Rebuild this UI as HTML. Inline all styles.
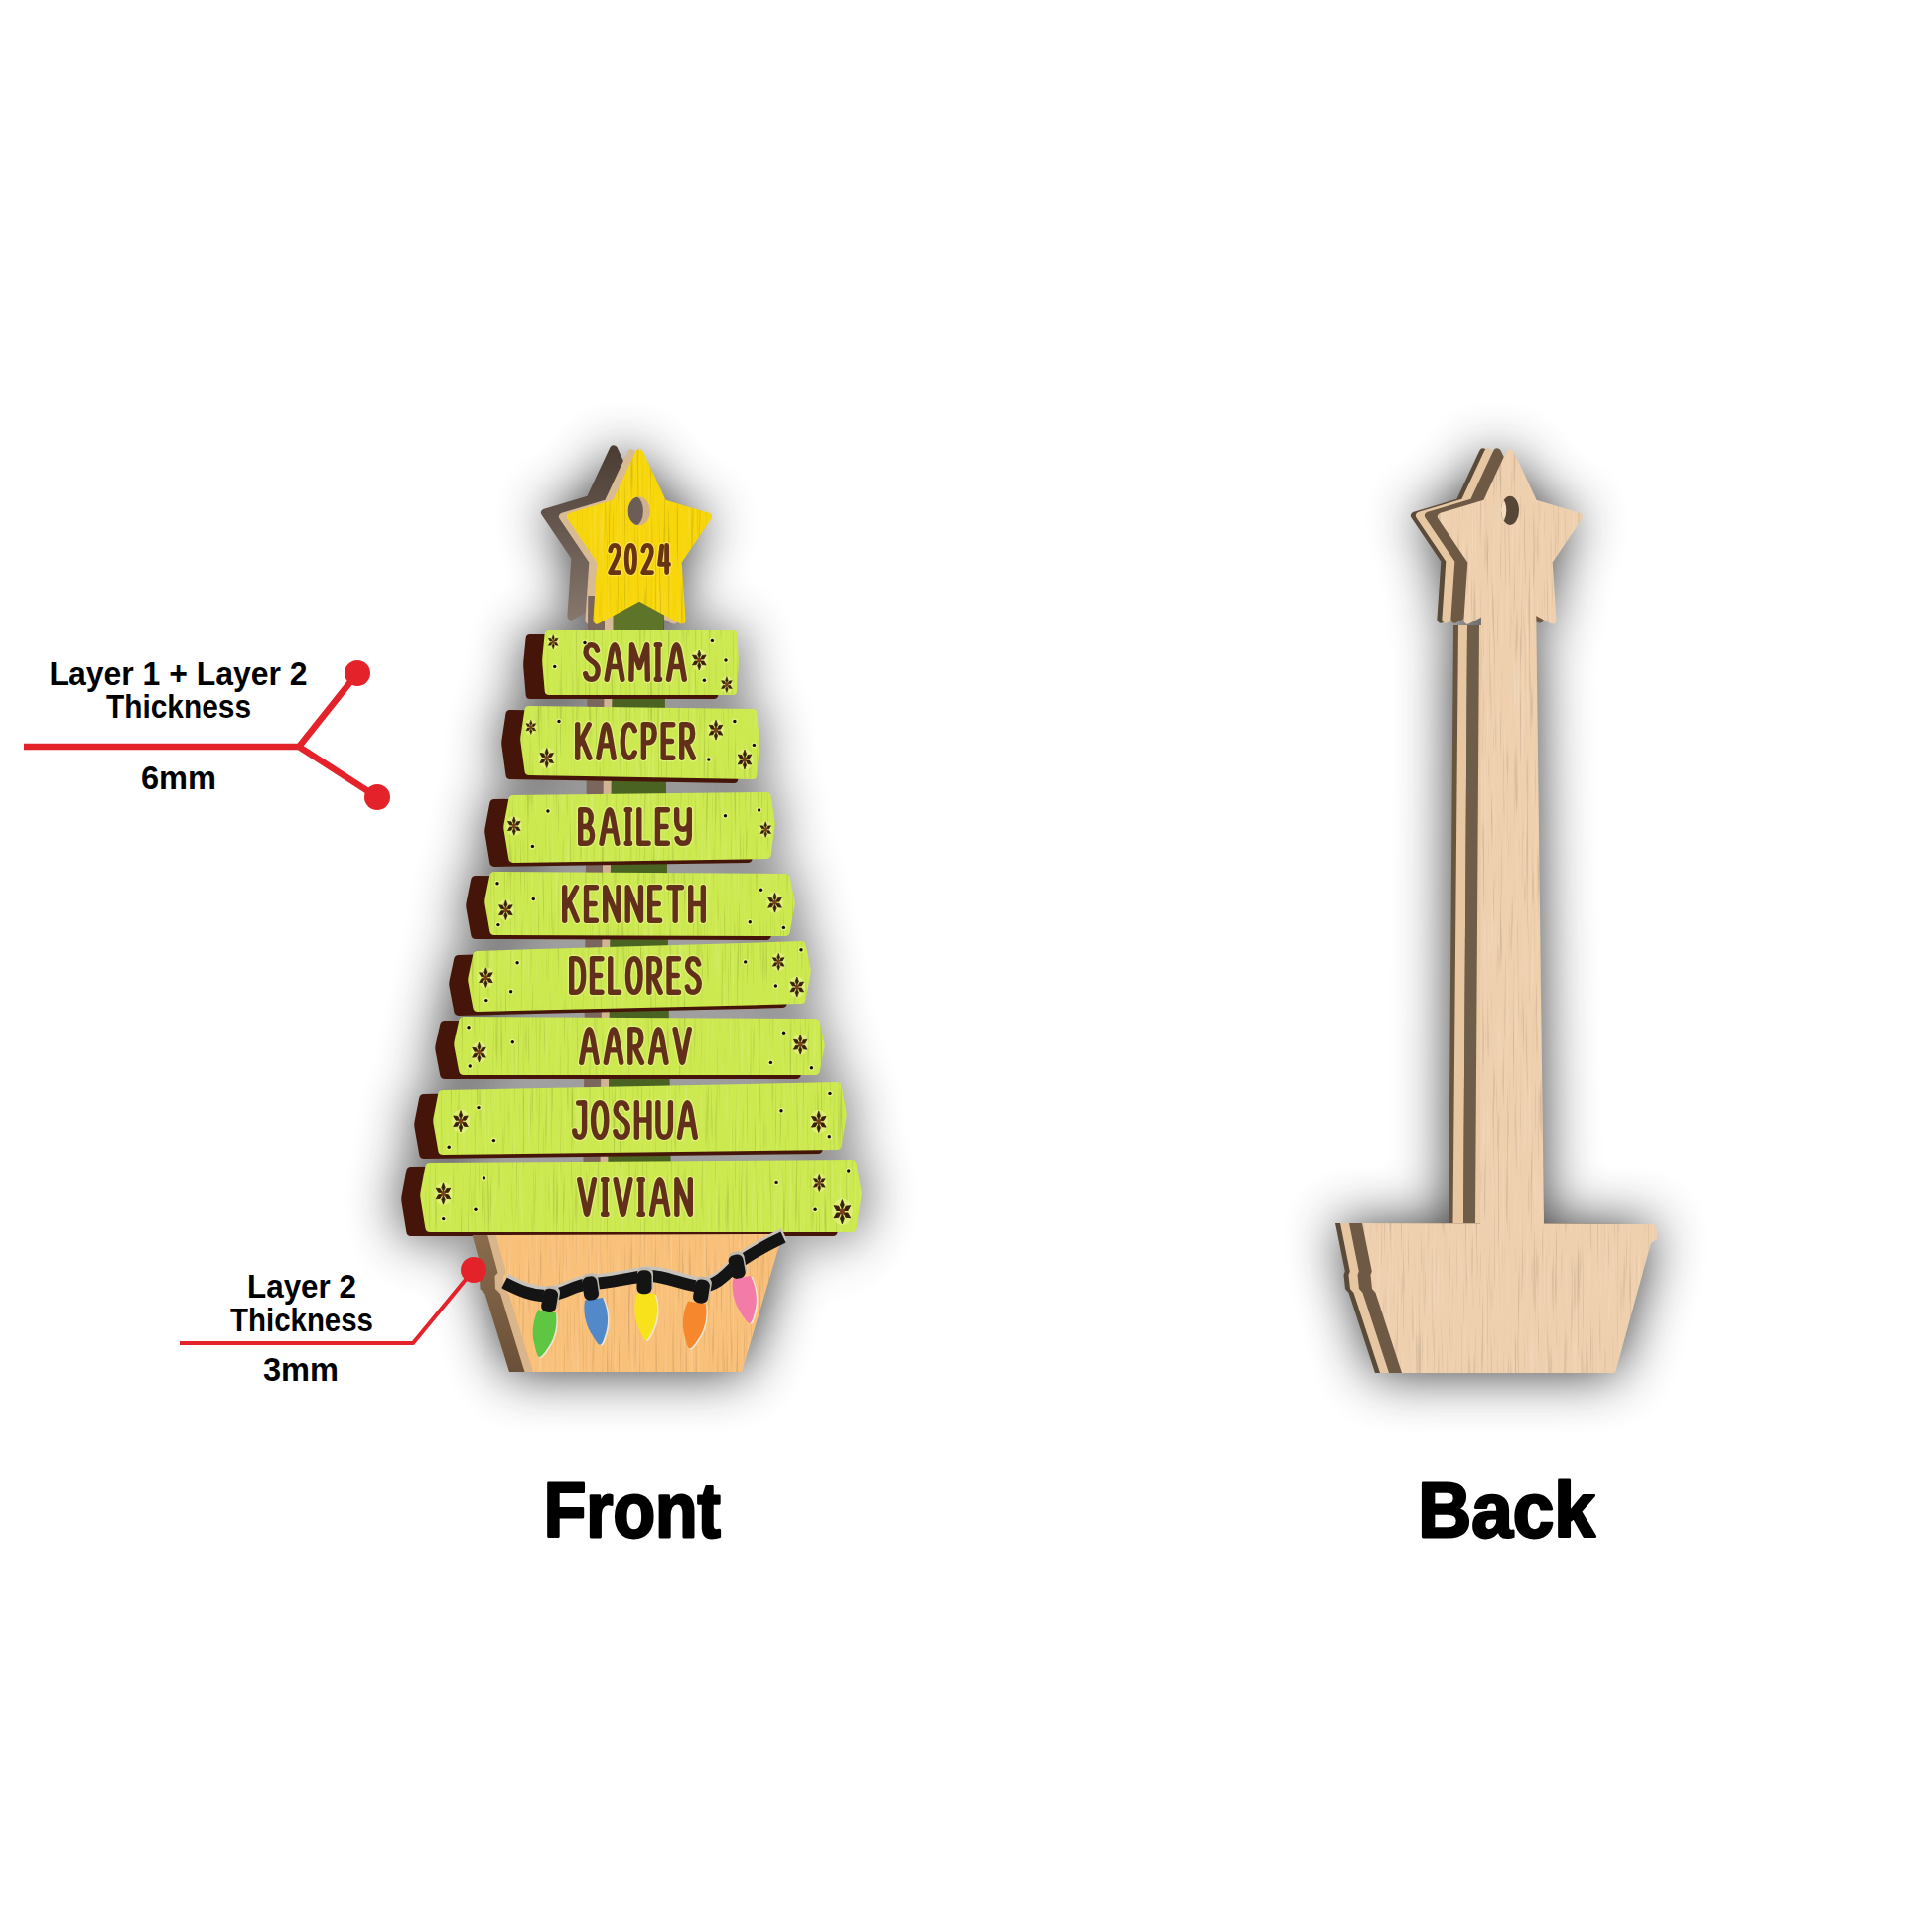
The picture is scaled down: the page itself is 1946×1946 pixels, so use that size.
<!DOCTYPE html><html><head><meta charset="utf-8"><title>Ornament</title><style>html,body{margin:0;padding:0;background:#fff;}svg{display:block;}</style></head><body>
<div style="position:absolute;left:0;top:0;width:1946px;height:1946px;filter:blur(27px);opacity:0.86"><svg xmlns="http://www.w3.org/2000/svg" width="1946" height="1946" viewBox="0 0 1946 1946"><g transform="translate(0,1)" fill="#1a1a1a">
<polygon points="618.0,448.3 642.8,501.6 690.0,515.3 658.1,562.0 662.5,623.8 618.0,599.3 573.5,623.8 577.9,562.0 546.0,515.3 593.2,501.6"/>
<polygon points="644.0,452.3 668.8,505.6 716.0,519.3 684.1,566.0 688.5,627.8 644.0,603.3 599.5,627.8 603.9,566.0 572.0,519.3 619.2,505.6"/>
<path d="M529.6,643.0 Q530.0,639.0 534.0,639.0 L719.0,639.0 Q723.0,639.0 723.3,643.0 L724.8,666.6 Q725.0,669.5 724.8,672.5 L723.2,700.0 Q723.0,704.0 719.0,704.0 L534.0,704.0 Q530.0,704.0 529.7,700.0 L527.3,672.5 Q527.0,669.5 527.3,666.6 Z"/>
<path d="M548.6,639.0 Q549.0,635.0 553.0,635.0 L738.0,635.0 Q742.0,635.0 742.3,639.0 L743.8,662.6 Q744.0,665.5 743.8,668.5 L742.2,696.0 Q742.0,700.0 738.0,700.0 L553.0,700.0 Q549.0,700.0 548.7,696.0 L546.3,668.5 Q546.0,665.5 546.3,662.6 Z"/>
<path d="M509.4,719.0 Q510.0,715.0 514.0,715.1 L739.0,717.9 Q743.0,718.0 743.4,722.0 L745.7,748.4 Q746.0,751.4 745.8,754.4 L743.3,785.0 Q743.0,789.0 739.0,788.9 L514.0,785.1 Q510.0,785.0 509.5,781.0 L505.4,750.9 Q505.0,747.9 505.5,744.9 Z"/>
<path d="M528.4,715.0 Q529.0,711.0 533.0,711.1 L758.0,713.9 Q762.0,714.0 762.4,718.0 L764.7,744.4 Q765.0,747.4 764.8,750.4 L762.3,781.0 Q762.0,785.0 758.0,784.9 L533.0,781.1 Q529.0,781.0 528.5,777.0 L524.4,746.9 Q524.0,743.9 524.5,740.9 Z"/>
<path d="M493.3,808.9 Q494.0,805.0 498.0,805.0 L753.0,802.0 Q757.0,802.0 757.6,806.0 L761.5,830.5 Q762.0,833.5 761.6,836.5 L757.6,865.0 Q757.0,869.0 753.0,869.1 L498.0,872.9 Q494.0,873.0 493.3,869.1 L488.5,839.9 Q488.0,837.0 488.6,834.0 Z"/>
<path d="M512.3,804.9 Q513.0,801.0 517.0,801.0 L772.0,798.0 Q776.0,798.0 776.6,802.0 L780.5,826.5 Q781.0,829.5 780.6,832.5 L776.6,861.0 Q776.0,865.0 772.0,865.1 L517.0,868.9 Q513.0,869.0 512.3,865.1 L507.5,835.9 Q507.0,833.0 507.6,830.0 Z"/>
<path d="M474.2,885.9 Q475.0,882.0 479.0,882.0 L772.0,884.0 Q776.0,884.0 776.8,887.9 L781.4,910.7 Q782.0,913.6 781.5,916.6 L776.7,943.1 Q776.0,947.0 772.0,947.0 L479.0,946.0 Q475.0,946.0 474.3,942.1 L469.5,915.0 Q469.0,912.1 469.6,909.1 Z"/>
<path d="M493.2,881.9 Q494.0,878.0 498.0,878.0 L791.0,880.0 Q795.0,880.0 795.8,883.9 L800.4,906.7 Q801.0,909.6 800.5,912.6 L795.7,939.1 Q795.0,943.0 791.0,943.0 L498.0,942.0 Q494.0,942.0 493.3,938.1 L488.5,911.0 Q488.0,908.1 488.6,905.1 Z"/>
<path d="M457.2,965.9 Q458.0,962.0 462.0,961.9 L788.0,952.1 Q792.0,952.0 792.8,955.9 L797.4,978.7 Q798.0,981.6 797.5,984.6 L792.7,1011.1 Q792.0,1015.0 788.0,1015.1 L462.0,1022.9 Q458.0,1023.0 457.3,1019.1 L452.5,993.6 Q452.0,990.7 452.6,987.7 Z"/>
<path d="M476.2,961.9 Q477.0,958.0 481.0,957.9 L807.0,948.1 Q811.0,948.0 811.8,951.9 L816.4,974.7 Q817.0,977.6 816.5,980.6 L811.7,1007.1 Q811.0,1011.0 807.0,1011.1 L481.0,1018.9 Q477.0,1019.0 476.3,1015.1 L471.5,989.6 Q471.0,986.7 471.6,983.7 Z"/>
<path d="M443.2,1031.9 Q444.0,1028.0 448.0,1028.0 L802.0,1030.0 Q806.0,1030.0 806.9,1033.9 L811.3,1053.9 Q812.0,1056.8 811.4,1059.7 L806.8,1083.1 Q806.0,1087.0 802.0,1087.0 L448.0,1087.0 Q444.0,1087.0 443.2,1083.1 L438.6,1058.7 Q438.0,1055.7 438.6,1052.8 Z"/>
<path d="M462.2,1027.9 Q463.0,1024.0 467.0,1024.0 L821.0,1026.0 Q825.0,1026.0 825.9,1029.9 L830.3,1049.9 Q831.0,1052.8 830.4,1055.7 L825.8,1079.1 Q825.0,1083.0 821.0,1083.0 L467.0,1083.0 Q463.0,1083.0 462.2,1079.1 L457.6,1054.7 Q457.0,1051.7 457.6,1048.8 Z"/>
<path d="M422.2,1105.9 Q423.0,1102.0 427.0,1101.9 L824.0,1094.1 Q828.0,1094.0 828.7,1097.9 L833.4,1123.0 Q834.0,1126.0 833.5,1128.9 L828.7,1158.1 Q828.0,1162.0 824.0,1162.0 L427.0,1167.0 Q423.0,1167.0 422.3,1163.1 L417.5,1135.5 Q417.0,1132.5 417.6,1129.6 Z"/>
<path d="M441.2,1101.9 Q442.0,1098.0 446.0,1097.9 L843.0,1090.1 Q847.0,1090.0 847.7,1093.9 L852.4,1119.0 Q853.0,1122.0 852.5,1124.9 L847.7,1154.1 Q847.0,1158.0 843.0,1158.0 L446.0,1163.0 Q442.0,1163.0 441.3,1159.1 L436.5,1131.5 Q436.0,1128.5 436.6,1125.6 Z"/>
<path d="M409.3,1178.9 Q410.0,1175.0 414.0,1175.0 L839.0,1172.0 Q843.0,1172.0 843.7,1175.9 L848.5,1203.4 Q849.0,1206.3 848.5,1209.3 L843.6,1241.0 Q843.0,1245.0 839.0,1245.0 L414.0,1245.0 Q410.0,1245.0 409.4,1241.1 L404.5,1210.9 Q404.0,1207.9 404.5,1204.9 Z"/>
<path d="M428.3,1174.9 Q429.0,1171.0 433.0,1171.0 L858.0,1168.0 Q862.0,1168.0 862.7,1171.9 L867.5,1199.4 Q868.0,1202.3 867.5,1205.3 L862.6,1237.0 Q862.0,1241.0 858.0,1241.0 L433.0,1241.0 Q429.0,1241.0 428.4,1237.1 L423.5,1206.9 Q423.0,1203.9 423.5,1200.9 Z"/>
<rect x="591" y="590" width="78" height="660"/>
<polygon points="476,1244 790,1243 748,1382 512,1382"/>
<rect x="574" y="641" width="142" height="71" fill="#909090"/>
<rect x="552" y="717" width="185" height="80" fill="#909090"/>
<rect x="535" y="804" width="218" height="77" fill="#909090"/>
<rect x="516" y="884" width="257" height="71" fill="#909090"/>
<rect x="499" y="954" width="290" height="77" fill="#909090"/>
<rect x="485" y="1030" width="318" height="65" fill="#909090"/>
<rect x="464" y="1096" width="361" height="79" fill="#909090"/>
<rect x="451" y="1174" width="389" height="79" fill="#909090"/>
</g>
<g transform="translate(0,1)" fill="#1a1a1a">
<polygon points="1495.0,450.3 1519.8,503.6 1567.0,517.3 1535.1,564.0 1539.5,625.8 1495.0,601.3 1450.5,625.8 1454.9,564.0 1423.0,517.3 1470.2,503.6"/>
<polygon points="1521.0,452.3 1545.8,505.6 1593.0,519.3 1561.1,566.0 1565.5,627.8 1521.0,603.3 1476.5,627.8 1480.9,566.0 1449.0,519.3 1496.2,505.6"/>
<polygon points="1462,630 1547,630 1555,1232 1459,1232"/>
<polygon points="1345,1232 1668,1233 1627,1383 1385,1383"/>
</g></svg></div>
<svg style="position:absolute;left:0;top:0" xmlns="http://www.w3.org/2000/svg" width="1946" height="1946" viewBox="0 0 1946 1946">
<defs>
<filter id="sh" x="-40%" y="-20%" width="180%" height="140%"><feGaussianBlur stdDeviation="22"/></filter>
<filter id="grain" x="-10%" y="-10%" width="120%" height="120%" color-interpolation-filters="sRGB">
 <feTurbulence type="fractalNoise" baseFrequency="0.45 0.012" numOctaves="2" seed="7" result="t"/>
 <feColorMatrix in="t" type="matrix" values="0 0 0 0 1  0 0 0 0 1  0 0 0 0 1  -0.55 0 0 0 0.24" result="lt"/>
 <feColorMatrix in="t" type="matrix" values="0 0 0 0 0  0 0 0 0 0  0 0 0 0 0  0.5 0 0 0 -0.29" result="dk"/>
 <feComposite in="lt" in2="SourceGraphic" operator="in" result="lt2"/>
 <feComposite in="dk" in2="SourceGraphic" operator="in" result="dk2"/>
 <feMerge><feMergeNode in="SourceGraphic"/><feMergeNode in="lt2"/><feMergeNode in="dk2"/></feMerge>
</filter>
<linearGradient id="darkstar" x1="0" y1="0" x2="0" y2="1"><stop offset="0" stop-color="#4b3d34"/><stop offset="1" stop-color="#85766c"/></linearGradient>
<linearGradient id="potside" x1="0" y1="0" x2="0" y2="1"><stop offset="0" stop-color="#8a6c4c"/><stop offset="1" stop-color="#6a5038"/></linearGradient>
<g id="flk"><path d="M0,-0.2 L0.2,-0.56 L0,-1 L-0.2,-0.56 Z" stroke="#3a200c" stroke-width="0.08" stroke-linejoin="round" transform="rotate(0)"/><path d="M0,-0.2 L0.2,-0.56 L0,-1 L-0.2,-0.56 Z" stroke="#3a200c" stroke-width="0.08" stroke-linejoin="round" transform="rotate(60)"/><path d="M0,-0.2 L0.2,-0.56 L0,-1 L-0.2,-0.56 Z" stroke="#3a200c" stroke-width="0.08" stroke-linejoin="round" transform="rotate(120)"/><path d="M0,-0.2 L0.2,-0.56 L0,-1 L-0.2,-0.56 Z" stroke="#3a200c" stroke-width="0.08" stroke-linejoin="round" transform="rotate(180)"/><path d="M0,-0.2 L0.2,-0.56 L0,-1 L-0.2,-0.56 Z" stroke="#3a200c" stroke-width="0.08" stroke-linejoin="round" transform="rotate(240)"/><path d="M0,-0.2 L0.2,-0.56 L0,-1 L-0.2,-0.56 Z" stroke="#3a200c" stroke-width="0.08" stroke-linejoin="round" transform="rotate(300)"/><circle r="0.26" fill="#7e4019"/></g>
</defs>
<polygon points="618.0,452.3 641.8,503.2 687.0,516.6 656.6,561.4 660.6,620.5 618.0,597.3 575.4,620.5 579.4,561.4 549.0,516.6 594.2,503.2" fill="url(#darkstar)" stroke="url(#darkstar)" stroke-width="8" stroke-linejoin="round"/>
<polygon points="636.0,456.3 659.8,507.2 705.0,520.6 674.6,565.4 678.6,624.5 636.0,601.3 593.4,624.5 597.4,565.4 567.0,520.6 612.2,507.2" fill="#d9bb93" stroke="#d9bb93" stroke-width="8" stroke-linejoin="round"/>
<polygon points="592.3,600 609.8,600 604.4,1241 586.9,1241" fill="#7a665c"/>
<polygon points="609.3,600 617.8,600 612.2,1241 604.0,1241" fill="#d2b394"/>
<polygon points="617.4,585 668.4,585 676.5,1241 611.8,1241" fill="#4a6322"/>
<rect x="609" y="600" width="9" height="36" fill="#d8bb98"/>
<rect x="617.5" y="585" width="50.5" height="51" fill="#5e7428"/>
<g filter="url(#grain)"><polygon points="644.0,456.3 667.8,507.2 713.0,520.6 682.6,565.4 686.6,624.5 644.0,601.3 601.4,624.5 605.4,565.4 575.0,520.6 620.2,507.2" fill="#f7d60c" stroke="#f7d60c" stroke-width="8" stroke-linejoin="round"/></g>
<defs><clipPath id="fhole"><ellipse cx="643.7" cy="514.9" rx="11.2" ry="14.3"/></clipPath></defs>
<ellipse cx="643.7" cy="514.9" rx="11.2" ry="14.3" fill="#d2b08e"/>
<ellipse cx="640.2" cy="514.9" rx="7.7" ry="14.4" fill="#6c5e56" clip-path="url(#fhole)"/>
<g fill="none" stroke="#fff27a" stroke-width="7.199999999999999" stroke-linecap="round" stroke-linejoin="round" opacity="0.55"><path vector-effect="non-scaling-stroke" transform="translate(614.40,549.40) scale(0.2456,0.2720)" d="M1,20 C3,7 10,0 19,0 C30,0 36,9 36,23 C36,44 20,62 1,100 L37,100"/><path vector-effect="non-scaling-stroke" transform="translate(631.19,549.40) scale(0.2456,0.2720)" d="M17,0 C29,0 34,22 34,50 C34,78 29,100 17,100 C5,100 0,78 0,50 C0,22 5,0 17,0 Z"/><path vector-effect="non-scaling-stroke" transform="translate(647.48,549.40) scale(0.2456,0.2720)" d="M1,20 C3,7 10,0 19,0 C30,0 36,9 36,23 C36,44 20,62 1,100 L37,100"/><path vector-effect="non-scaling-stroke" transform="translate(664.27,549.40) scale(0.2456,0.2720)" d="M10,3 L1,70 L38,70 M30,0 L30,100"/></g>
<g fill="none" stroke="#693414" stroke-width="4.8" stroke-linecap="round" stroke-linejoin="round"><path vector-effect="non-scaling-stroke" transform="translate(614.40,549.40) scale(0.2456,0.2720)" d="M1,20 C3,7 10,0 19,0 C30,0 36,9 36,23 C36,44 20,62 1,100 L37,100"/><path vector-effect="non-scaling-stroke" transform="translate(631.19,549.40) scale(0.2456,0.2720)" d="M17,0 C29,0 34,22 34,50 C34,78 29,100 17,100 C5,100 0,78 0,50 C0,22 5,0 17,0 Z"/><path vector-effect="non-scaling-stroke" transform="translate(647.48,549.40) scale(0.2456,0.2720)" d="M1,20 C3,7 10,0 19,0 C30,0 36,9 36,23 C36,44 20,62 1,100 L37,100"/><path vector-effect="non-scaling-stroke" transform="translate(664.27,549.40) scale(0.2456,0.2720)" d="M10,3 L1,70 L38,70 M30,0 L30,100"/></g>
<path d="M529.6,643.0 Q530.0,639.0 534.0,639.0 L719.0,639.0 Q723.0,639.0 723.3,643.0 L724.8,666.6 Q725.0,669.5 724.8,672.5 L723.2,700.0 Q723.0,704.0 719.0,704.0 L534.0,704.0 Q530.0,704.0 529.7,700.0 L527.3,672.5 Q527.0,669.5 527.3,666.6 Z" fill="#461509"/>
<path d="M548.6,639.0 Q549.0,635.0 553.0,635.0 L738.0,635.0 Q742.0,635.0 742.3,639.0 L743.8,662.6 Q744.0,665.5 743.8,668.5 L742.2,696.0 Q742.0,700.0 738.0,700.0 L553.0,700.0 Q549.0,700.0 548.7,696.0 L546.3,668.5 Q546.0,665.5 546.3,662.6 Z" fill="#cce94f" filter="url(#grain)"/>
<g fill="none" stroke="#eef79a" stroke-width="8.0" stroke-linecap="round" stroke-linejoin="round" opacity="0.55"><path vector-effect="non-scaling-stroke" transform="translate(589.70,649.70) scale(0.3291,0.3460)" d="M36,16 C33,4 25,0 18,0 C7,0 1,9 1,22 C1,36 12,42 20,47 C30,53 38,60 38,74 C38,90 30,100 18,100 C8,100 2,94 0,84"/><path vector-effect="non-scaling-stroke" transform="translate(611.14,649.70) scale(0.3291,0.3460)" d="M0,100 L14,24 C17,7 20,0 24,0 C28,0 31,7 34,24 L48,100 M8,63 L40,63"/><path vector-effect="non-scaling-stroke" transform="translate(635.88,649.70) scale(0.3291,0.3460)" d="M0,100 L2,0 L25,66 L48,0 L50,100"/><path vector-effect="non-scaling-stroke" transform="translate(661.27,649.70) scale(0.3291,0.3460)" d="M5,0 L5,100 M0,0 L10,0 M0,100 L10,100"/><path vector-effect="non-scaling-stroke" transform="translate(673.50,649.70) scale(0.3291,0.3460)" d="M0,100 L14,24 C17,7 20,0 24,0 C28,0 31,7 34,24 L48,100 M8,63 L40,63"/></g>
<g fill="none" stroke="#62301a" stroke-width="5.4" stroke-linecap="round" stroke-linejoin="round"><path vector-effect="non-scaling-stroke" transform="translate(589.70,649.70) scale(0.3291,0.3460)" d="M36,16 C33,4 25,0 18,0 C7,0 1,9 1,22 C1,36 12,42 20,47 C30,53 38,60 38,74 C38,90 30,100 18,100 C8,100 2,94 0,84"/><path vector-effect="non-scaling-stroke" transform="translate(611.14,649.70) scale(0.3291,0.3460)" d="M0,100 L14,24 C17,7 20,0 24,0 C28,0 31,7 34,24 L48,100 M8,63 L40,63"/><path vector-effect="non-scaling-stroke" transform="translate(635.88,649.70) scale(0.3291,0.3460)" d="M0,100 L2,0 L25,66 L48,0 L50,100"/><path vector-effect="non-scaling-stroke" transform="translate(661.27,649.70) scale(0.3291,0.3460)" d="M5,0 L5,100 M0,0 L10,0 M0,100 L10,100"/><path vector-effect="non-scaling-stroke" transform="translate(673.50,649.70) scale(0.3291,0.3460)" d="M0,100 L14,24 C17,7 20,0 24,0 C28,0 31,7 34,24 L48,100 M8,63 L40,63"/></g>
<path d="M509.4,719.0 Q510.0,715.0 514.0,715.1 L739.0,717.9 Q743.0,718.0 743.4,722.0 L745.7,748.4 Q746.0,751.4 745.8,754.4 L743.3,785.0 Q743.0,789.0 739.0,788.9 L514.0,785.1 Q510.0,785.0 509.5,781.0 L505.4,750.9 Q505.0,747.9 505.5,744.9 Z" fill="#461509"/>
<path d="M528.4,715.0 Q529.0,711.0 533.0,711.1 L758.0,713.9 Q762.0,714.0 762.4,718.0 L764.7,744.4 Q765.0,747.4 764.8,750.4 L762.3,781.0 Q762.0,785.0 758.0,784.9 L533.0,781.1 Q529.0,781.0 528.5,777.0 L524.4,746.9 Q524.0,743.9 524.5,740.9 Z" fill="#cce94f" filter="url(#grain)"/>
<g fill="none" stroke="#eef79a" stroke-width="8.0" stroke-linecap="round" stroke-linejoin="round" opacity="0.55"><path vector-effect="non-scaling-stroke" transform="translate(581.70,729.70) scale(0.3204,0.3360)" d="M0,0 L0,100 M36,0 L4,60 M14,44 L38,100"/><path vector-effect="non-scaling-stroke" transform="translate(602.84,729.70) scale(0.3204,0.3360)" d="M0,100 L14,24 C17,7 20,0 24,0 C28,0 31,7 34,24 L48,100 M8,63 L40,63"/><path vector-effect="non-scaling-stroke" transform="translate(627.19,729.70) scale(0.3204,0.3360)" d="M38,18 C34,5 27,0 20,0 C7,0 0,22 0,50 C0,80 7,100 20,100 C28,100 34,95 38,84"/><path vector-effect="non-scaling-stroke" transform="translate(648.33,729.70) scale(0.3204,0.3360)" d="M0,100 L0,0 L16,0 C29,0 34,11 34,26 C34,42 28,54 14,54 L0,54"/><path vector-effect="non-scaling-stroke" transform="translate(668.19,729.70) scale(0.3204,0.3360)" d="M30,0 L0,0 L0,100 L30,100 M0,50 L26,50"/><path vector-effect="non-scaling-stroke" transform="translate(686.76,729.70) scale(0.3204,0.3360)" d="M0,100 L0,0 L16,0 C29,0 34,11 34,26 C34,42 28,54 14,54 L0,54 M14,54 L36,100"/></g>
<g fill="none" stroke="#62301a" stroke-width="5.4" stroke-linecap="round" stroke-linejoin="round"><path vector-effect="non-scaling-stroke" transform="translate(581.70,729.70) scale(0.3204,0.3360)" d="M0,0 L0,100 M36,0 L4,60 M14,44 L38,100"/><path vector-effect="non-scaling-stroke" transform="translate(602.84,729.70) scale(0.3204,0.3360)" d="M0,100 L14,24 C17,7 20,0 24,0 C28,0 31,7 34,24 L48,100 M8,63 L40,63"/><path vector-effect="non-scaling-stroke" transform="translate(627.19,729.70) scale(0.3204,0.3360)" d="M38,18 C34,5 27,0 20,0 C7,0 0,22 0,50 C0,80 7,100 20,100 C28,100 34,95 38,84"/><path vector-effect="non-scaling-stroke" transform="translate(648.33,729.70) scale(0.3204,0.3360)" d="M0,100 L0,0 L16,0 C29,0 34,11 34,26 C34,42 28,54 14,54 L0,54"/><path vector-effect="non-scaling-stroke" transform="translate(668.19,729.70) scale(0.3204,0.3360)" d="M30,0 L0,0 L0,100 L30,100 M0,50 L26,50"/><path vector-effect="non-scaling-stroke" transform="translate(686.76,729.70) scale(0.3204,0.3360)" d="M0,100 L0,0 L16,0 C29,0 34,11 34,26 C34,42 28,54 14,54 L0,54 M14,54 L36,100"/></g>
<path d="M493.3,808.9 Q494.0,805.0 498.0,805.0 L753.0,802.0 Q757.0,802.0 757.6,806.0 L761.5,830.5 Q762.0,833.5 761.6,836.5 L757.6,865.0 Q757.0,869.0 753.0,869.1 L498.0,872.9 Q494.0,873.0 493.3,869.1 L488.5,839.9 Q488.0,837.0 488.6,834.0 Z" fill="#461509"/>
<path d="M512.3,804.9 Q513.0,801.0 517.0,801.0 L772.0,798.0 Q776.0,798.0 776.6,802.0 L780.5,826.5 Q781.0,829.5 780.6,832.5 L776.6,861.0 Q776.0,865.0 772.0,865.1 L517.0,868.9 Q513.0,869.0 512.3,865.1 L507.5,835.9 Q507.0,833.0 507.6,830.0 Z" fill="#cce94f" filter="url(#grain)"/>
<g fill="none" stroke="#eef79a" stroke-width="8.0" stroke-linecap="round" stroke-linejoin="round" opacity="0.55"><path vector-effect="non-scaling-stroke" transform="translate(584.70,815.70) scale(0.3322,0.3360)" d="M0,50 L0,0 L14,0 C26,0 32,10 32,24 C32,40 24,50 12,50 L0,50 L0,100 L18,100 C30,100 36,90 36,75 C36,60 28,50 14,50"/><path vector-effect="non-scaling-stroke" transform="translate(605.96,815.70) scale(0.3322,0.3360)" d="M0,100 L14,24 C17,7 20,0 24,0 C28,0 31,7 34,24 L48,100 M8,63 L40,63"/><path vector-effect="non-scaling-stroke" transform="translate(631.20,815.70) scale(0.3322,0.3360)" d="M5,0 L5,100 M0,0 L10,0 M0,100 L10,100"/><path vector-effect="non-scaling-stroke" transform="translate(643.82,815.70) scale(0.3322,0.3360)" d="M0,0 L0,100 L28,100"/><path vector-effect="non-scaling-stroke" transform="translate(662.41,815.70) scale(0.3322,0.3360)" d="M30,0 L0,0 L0,100 L30,100 M0,50 L26,50"/><path vector-effect="non-scaling-stroke" transform="translate(681.67,815.70) scale(0.3322,0.3360)" d="M0,0 L0,34 C0,50 8,58 19,58 C30,58 38,50 38,34 L38,0 M38,34 L38,78 C38,94 30,100 19,100 C10,100 3,95 1,86"/></g>
<g fill="none" stroke="#62301a" stroke-width="5.4" stroke-linecap="round" stroke-linejoin="round"><path vector-effect="non-scaling-stroke" transform="translate(584.70,815.70) scale(0.3322,0.3360)" d="M0,50 L0,0 L14,0 C26,0 32,10 32,24 C32,40 24,50 12,50 L0,50 L0,100 L18,100 C30,100 36,90 36,75 C36,60 28,50 14,50"/><path vector-effect="non-scaling-stroke" transform="translate(605.96,815.70) scale(0.3322,0.3360)" d="M0,100 L14,24 C17,7 20,0 24,0 C28,0 31,7 34,24 L48,100 M8,63 L40,63"/><path vector-effect="non-scaling-stroke" transform="translate(631.20,815.70) scale(0.3322,0.3360)" d="M5,0 L5,100 M0,0 L10,0 M0,100 L10,100"/><path vector-effect="non-scaling-stroke" transform="translate(643.82,815.70) scale(0.3322,0.3360)" d="M0,0 L0,100 L28,100"/><path vector-effect="non-scaling-stroke" transform="translate(662.41,815.70) scale(0.3322,0.3360)" d="M30,0 L0,0 L0,100 L30,100 M0,50 L26,50"/><path vector-effect="non-scaling-stroke" transform="translate(681.67,815.70) scale(0.3322,0.3360)" d="M0,0 L0,34 C0,50 8,58 19,58 C30,58 38,50 38,34 L38,0 M38,34 L38,78 C38,94 30,100 19,100 C10,100 3,95 1,86"/></g>
<path d="M474.2,885.9 Q475.0,882.0 479.0,882.0 L772.0,884.0 Q776.0,884.0 776.8,887.9 L781.4,910.7 Q782.0,913.6 781.5,916.6 L776.7,943.1 Q776.0,947.0 772.0,947.0 L479.0,946.0 Q475.0,946.0 474.3,942.1 L469.5,915.0 Q469.0,912.1 469.6,909.1 Z" fill="#461509"/>
<path d="M493.2,881.9 Q494.0,878.0 498.0,878.0 L791.0,880.0 Q795.0,880.0 795.8,883.9 L800.4,906.7 Q801.0,909.6 800.5,912.6 L795.7,939.1 Q795.0,943.0 791.0,943.0 L498.0,942.0 Q494.0,942.0 493.3,938.1 L488.5,911.0 Q488.0,908.1 488.6,905.1 Z" fill="#cce94f" filter="url(#grain)"/>
<g fill="none" stroke="#eef79a" stroke-width="8.0" stroke-linecap="round" stroke-linejoin="round" opacity="0.55"><path vector-effect="non-scaling-stroke" transform="translate(568.70,893.70) scale(0.3309,0.3360)" d="M0,0 L0,100 M36,0 L4,60 M14,44 L38,100"/><path vector-effect="non-scaling-stroke" transform="translate(590.53,893.70) scale(0.3309,0.3360)" d="M30,0 L0,0 L0,100 L30,100 M0,50 L26,50"/><path vector-effect="non-scaling-stroke" transform="translate(609.72,893.70) scale(0.3309,0.3360)" d="M0,100 L0,0 L40,100 L40,0"/><path vector-effect="non-scaling-stroke" transform="translate(632.21,893.70) scale(0.3309,0.3360)" d="M0,100 L0,0 L40,100 L40,0"/><path vector-effect="non-scaling-stroke" transform="translate(654.71,893.70) scale(0.3309,0.3360)" d="M30,0 L0,0 L0,100 L30,100 M0,50 L26,50"/><path vector-effect="non-scaling-stroke" transform="translate(673.89,893.70) scale(0.3309,0.3360)" d="M0,0 L38,0 M19,0 L19,100"/><path vector-effect="non-scaling-stroke" transform="translate(695.73,893.70) scale(0.3309,0.3360)" d="M0,0 L0,100 M38,0 L38,100 M0,50 L38,50"/></g>
<g fill="none" stroke="#62301a" stroke-width="5.4" stroke-linecap="round" stroke-linejoin="round"><path vector-effect="non-scaling-stroke" transform="translate(568.70,893.70) scale(0.3309,0.3360)" d="M0,0 L0,100 M36,0 L4,60 M14,44 L38,100"/><path vector-effect="non-scaling-stroke" transform="translate(590.53,893.70) scale(0.3309,0.3360)" d="M30,0 L0,0 L0,100 L30,100 M0,50 L26,50"/><path vector-effect="non-scaling-stroke" transform="translate(609.72,893.70) scale(0.3309,0.3360)" d="M0,100 L0,0 L40,100 L40,0"/><path vector-effect="non-scaling-stroke" transform="translate(632.21,893.70) scale(0.3309,0.3360)" d="M0,100 L0,0 L40,100 L40,0"/><path vector-effect="non-scaling-stroke" transform="translate(654.71,893.70) scale(0.3309,0.3360)" d="M30,0 L0,0 L0,100 L30,100 M0,50 L26,50"/><path vector-effect="non-scaling-stroke" transform="translate(673.89,893.70) scale(0.3309,0.3360)" d="M0,0 L38,0 M19,0 L19,100"/><path vector-effect="non-scaling-stroke" transform="translate(695.73,893.70) scale(0.3309,0.3360)" d="M0,0 L0,100 M38,0 L38,100 M0,50 L38,50"/></g>
<path d="M457.2,965.9 Q458.0,962.0 462.0,961.9 L788.0,952.1 Q792.0,952.0 792.8,955.9 L797.4,978.7 Q798.0,981.6 797.5,984.6 L792.7,1011.1 Q792.0,1015.0 788.0,1015.1 L462.0,1022.9 Q458.0,1023.0 457.3,1019.1 L452.5,993.6 Q452.0,990.7 452.6,987.7 Z" fill="#461509"/>
<path d="M476.2,961.9 Q477.0,958.0 481.0,957.9 L807.0,948.1 Q811.0,948.0 811.8,951.9 L816.4,974.7 Q817.0,977.6 816.5,980.6 L811.7,1007.1 Q811.0,1011.0 807.0,1011.1 L481.0,1018.9 Q477.0,1019.0 476.3,1015.1 L471.5,989.6 Q471.0,986.7 471.6,983.7 Z" fill="#cce94f" filter="url(#grain)"/>
<g fill="none" stroke="#eef79a" stroke-width="8.0" stroke-linecap="round" stroke-linejoin="round" opacity="0.55"><path vector-effect="non-scaling-stroke" transform="translate(575.70,965.70) scale(0.3153,0.3360)" d="M0,0 L0,100 L12,100 C30,100 38,80 38,50 C38,20 30,0 12,0 Z"/><path vector-effect="non-scaling-stroke" transform="translate(596.50,965.70) scale(0.3153,0.3360)" d="M30,0 L0,0 L0,100 L30,100 M0,50 L26,50"/><path vector-effect="non-scaling-stroke" transform="translate(614.78,965.70) scale(0.3153,0.3360)" d="M0,0 L0,100 L28,100"/><path vector-effect="non-scaling-stroke" transform="translate(632.43,965.70) scale(0.3153,0.3360)" d="M20,0 C33,0 40,22 40,50 C40,78 33,100 20,100 C7,100 0,78 0,50 C0,22 7,0 20,0 Z"/><path vector-effect="non-scaling-stroke" transform="translate(653.87,965.70) scale(0.3153,0.3360)" d="M0,100 L0,0 L16,0 C29,0 34,11 34,26 C34,42 28,54 14,54 L0,54 M14,54 L36,100"/><path vector-effect="non-scaling-stroke" transform="translate(674.04,965.70) scale(0.3153,0.3360)" d="M30,0 L0,0 L0,100 L30,100 M0,50 L26,50"/><path vector-effect="non-scaling-stroke" transform="translate(692.32,965.70) scale(0.3153,0.3360)" d="M36,16 C33,4 25,0 18,0 C7,0 1,9 1,22 C1,36 12,42 20,47 C30,53 38,60 38,74 C38,90 30,100 18,100 C8,100 2,94 0,84"/></g>
<g fill="none" stroke="#62301a" stroke-width="5.4" stroke-linecap="round" stroke-linejoin="round"><path vector-effect="non-scaling-stroke" transform="translate(575.70,965.70) scale(0.3153,0.3360)" d="M0,0 L0,100 L12,100 C30,100 38,80 38,50 C38,20 30,0 12,0 Z"/><path vector-effect="non-scaling-stroke" transform="translate(596.50,965.70) scale(0.3153,0.3360)" d="M30,0 L0,0 L0,100 L30,100 M0,50 L26,50"/><path vector-effect="non-scaling-stroke" transform="translate(614.78,965.70) scale(0.3153,0.3360)" d="M0,0 L0,100 L28,100"/><path vector-effect="non-scaling-stroke" transform="translate(632.43,965.70) scale(0.3153,0.3360)" d="M20,0 C33,0 40,22 40,50 C40,78 33,100 20,100 C7,100 0,78 0,50 C0,22 7,0 20,0 Z"/><path vector-effect="non-scaling-stroke" transform="translate(653.87,965.70) scale(0.3153,0.3360)" d="M0,100 L0,0 L16,0 C29,0 34,11 34,26 C34,42 28,54 14,54 L0,54 M14,54 L36,100"/><path vector-effect="non-scaling-stroke" transform="translate(674.04,965.70) scale(0.3153,0.3360)" d="M30,0 L0,0 L0,100 L30,100 M0,50 L26,50"/><path vector-effect="non-scaling-stroke" transform="translate(692.32,965.70) scale(0.3153,0.3360)" d="M36,16 C33,4 25,0 18,0 C7,0 1,9 1,22 C1,36 12,42 20,47 C30,53 38,60 38,74 C38,90 30,100 18,100 C8,100 2,94 0,84"/></g>
<path d="M443.2,1031.9 Q444.0,1028.0 448.0,1028.0 L802.0,1030.0 Q806.0,1030.0 806.9,1033.9 L811.3,1053.9 Q812.0,1056.8 811.4,1059.7 L806.8,1083.1 Q806.0,1087.0 802.0,1087.0 L448.0,1087.0 Q444.0,1087.0 443.2,1083.1 L438.6,1058.7 Q438.0,1055.7 438.6,1052.8 Z" fill="#461509"/>
<path d="M462.2,1027.9 Q463.0,1024.0 467.0,1024.0 L821.0,1026.0 Q825.0,1026.0 825.9,1029.9 L830.3,1049.9 Q831.0,1052.8 830.4,1055.7 L825.8,1079.1 Q825.0,1083.0 821.0,1083.0 L467.0,1083.0 Q463.0,1083.0 462.2,1079.1 L457.6,1054.7 Q457.0,1051.7 457.6,1048.8 Z" fill="#cce94f" filter="url(#grain)"/>
<g fill="none" stroke="#eef79a" stroke-width="8.0" stroke-linecap="round" stroke-linejoin="round" opacity="0.55"><path vector-effect="non-scaling-stroke" transform="translate(585.70,1036.70) scale(0.3233,0.3360)" d="M0,100 L14,24 C17,7 20,0 24,0 C28,0 31,7 34,24 L48,100 M8,63 L40,63"/><path vector-effect="non-scaling-stroke" transform="translate(610.26,1036.70) scale(0.3233,0.3360)" d="M0,100 L14,24 C17,7 20,0 24,0 C28,0 31,7 34,24 L48,100 M8,63 L40,63"/><path vector-effect="non-scaling-stroke" transform="translate(634.83,1036.70) scale(0.3233,0.3360)" d="M0,100 L0,0 L16,0 C29,0 34,11 34,26 C34,42 28,54 14,54 L0,54 M14,54 L36,100"/><path vector-effect="non-scaling-stroke" transform="translate(655.51,1036.70) scale(0.3233,0.3360)" d="M0,100 L14,24 C17,7 20,0 24,0 C28,0 31,7 34,24 L48,100 M8,63 L40,63"/><path vector-effect="non-scaling-stroke" transform="translate(680.07,1036.70) scale(0.3233,0.3360)" d="M0,0 L20,96 Q22,104 24,96 L44,0"/></g>
<g fill="none" stroke="#62301a" stroke-width="5.4" stroke-linecap="round" stroke-linejoin="round"><path vector-effect="non-scaling-stroke" transform="translate(585.70,1036.70) scale(0.3233,0.3360)" d="M0,100 L14,24 C17,7 20,0 24,0 C28,0 31,7 34,24 L48,100 M8,63 L40,63"/><path vector-effect="non-scaling-stroke" transform="translate(610.26,1036.70) scale(0.3233,0.3360)" d="M0,100 L14,24 C17,7 20,0 24,0 C28,0 31,7 34,24 L48,100 M8,63 L40,63"/><path vector-effect="non-scaling-stroke" transform="translate(634.83,1036.70) scale(0.3233,0.3360)" d="M0,100 L0,0 L16,0 C29,0 34,11 34,26 C34,42 28,54 14,54 L0,54 M14,54 L36,100"/><path vector-effect="non-scaling-stroke" transform="translate(655.51,1036.70) scale(0.3233,0.3360)" d="M0,100 L14,24 C17,7 20,0 24,0 C28,0 31,7 34,24 L48,100 M8,63 L40,63"/><path vector-effect="non-scaling-stroke" transform="translate(680.07,1036.70) scale(0.3233,0.3360)" d="M0,0 L20,96 Q22,104 24,96 L44,0"/></g>
<path d="M422.2,1105.9 Q423.0,1102.0 427.0,1101.9 L824.0,1094.1 Q828.0,1094.0 828.7,1097.9 L833.4,1123.0 Q834.0,1126.0 833.5,1128.9 L828.7,1158.1 Q828.0,1162.0 824.0,1162.0 L427.0,1167.0 Q423.0,1167.0 422.3,1163.1 L417.5,1135.5 Q417.0,1132.5 417.6,1129.6 Z" fill="#461509"/>
<path d="M441.2,1101.9 Q442.0,1098.0 446.0,1097.9 L843.0,1090.1 Q847.0,1090.0 847.7,1093.9 L852.4,1119.0 Q853.0,1122.0 852.5,1124.9 L847.7,1154.1 Q847.0,1158.0 843.0,1158.0 L446.0,1163.0 Q442.0,1163.0 441.3,1159.1 L436.5,1131.5 Q436.0,1128.5 436.6,1125.6 Z" fill="#cce94f" filter="url(#grain)"/>
<g fill="none" stroke="#eef79a" stroke-width="8.0" stroke-linecap="round" stroke-linejoin="round" opacity="0.55"><path vector-effect="non-scaling-stroke" transform="translate(578.70,1110.70) scale(0.3306,0.3460)" d="M12,1 L30,0 L30,74 C30,92 23,100 15,100 C6,100 0,93 0,82"/><path vector-effect="non-scaling-stroke" transform="translate(597.60,1110.70) scale(0.3306,0.3460)" d="M20,0 C33,0 40,22 40,50 C40,78 33,100 20,100 C7,100 0,78 0,50 C0,22 7,0 20,0 Z"/><path vector-effect="non-scaling-stroke" transform="translate(619.80,1110.70) scale(0.3306,0.3460)" d="M36,16 C33,4 25,0 18,0 C7,0 1,9 1,22 C1,36 12,42 20,47 C30,53 38,60 38,74 C38,90 30,100 18,100 C8,100 2,94 0,84"/><path vector-effect="non-scaling-stroke" transform="translate(641.35,1110.70) scale(0.3306,0.3460)" d="M0,0 L0,100 M38,0 L38,100 M0,50 L38,50"/><path vector-effect="non-scaling-stroke" transform="translate(662.89,1110.70) scale(0.3306,0.3460)" d="M0,0 L0,70 C0,90 8,100 19,100 C30,100 38,90 38,70 L38,0"/><path vector-effect="non-scaling-stroke" transform="translate(684.43,1110.70) scale(0.3306,0.3460)" d="M0,100 L14,24 C17,7 20,0 24,0 C28,0 31,7 34,24 L48,100 M8,63 L40,63"/></g>
<g fill="none" stroke="#62301a" stroke-width="5.4" stroke-linecap="round" stroke-linejoin="round"><path vector-effect="non-scaling-stroke" transform="translate(578.70,1110.70) scale(0.3306,0.3460)" d="M12,1 L30,0 L30,74 C30,92 23,100 15,100 C6,100 0,93 0,82"/><path vector-effect="non-scaling-stroke" transform="translate(597.60,1110.70) scale(0.3306,0.3460)" d="M20,0 C33,0 40,22 40,50 C40,78 33,100 20,100 C7,100 0,78 0,50 C0,22 7,0 20,0 Z"/><path vector-effect="non-scaling-stroke" transform="translate(619.80,1110.70) scale(0.3306,0.3460)" d="M36,16 C33,4 25,0 18,0 C7,0 1,9 1,22 C1,36 12,42 20,47 C30,53 38,60 38,74 C38,90 30,100 18,100 C8,100 2,94 0,84"/><path vector-effect="non-scaling-stroke" transform="translate(641.35,1110.70) scale(0.3306,0.3460)" d="M0,0 L0,100 M38,0 L38,100 M0,50 L38,50"/><path vector-effect="non-scaling-stroke" transform="translate(662.89,1110.70) scale(0.3306,0.3460)" d="M0,0 L0,70 C0,90 8,100 19,100 C30,100 38,90 38,70 L38,0"/><path vector-effect="non-scaling-stroke" transform="translate(684.43,1110.70) scale(0.3306,0.3460)" d="M0,100 L14,24 C17,7 20,0 24,0 C28,0 31,7 34,24 L48,100 M8,63 L40,63"/></g>
<path d="M409.3,1178.9 Q410.0,1175.0 414.0,1175.0 L839.0,1172.0 Q843.0,1172.0 843.7,1175.9 L848.5,1203.4 Q849.0,1206.3 848.5,1209.3 L843.6,1241.0 Q843.0,1245.0 839.0,1245.0 L414.0,1245.0 Q410.0,1245.0 409.4,1241.1 L404.5,1210.9 Q404.0,1207.9 404.5,1204.9 Z" fill="#461509"/>
<path d="M428.3,1174.9 Q429.0,1171.0 433.0,1171.0 L858.0,1168.0 Q862.0,1168.0 862.7,1171.9 L867.5,1199.4 Q868.0,1202.3 867.5,1205.3 L862.6,1237.0 Q862.0,1241.0 858.0,1241.0 L433.0,1241.0 Q429.0,1241.0 428.4,1237.1 L423.5,1206.9 Q423.0,1203.9 423.5,1200.9 Z" fill="#cce94f" filter="url(#grain)"/>
<g fill="none" stroke="#eef79a" stroke-width="8.0" stroke-linecap="round" stroke-linejoin="round" opacity="0.55"><path vector-effect="non-scaling-stroke" transform="translate(583.70,1188.70) scale(0.3363,0.3460)" d="M0,0 L20,96 Q22,104 24,96 L44,0"/><path vector-effect="non-scaling-stroke" transform="translate(607.63,1188.70) scale(0.3363,0.3460)" d="M5,0 L5,100 M0,0 L10,0 M0,100 L10,100"/><path vector-effect="non-scaling-stroke" transform="translate(620.13,1188.70) scale(0.3363,0.3460)" d="M0,0 L20,96 Q22,104 24,96 L44,0"/><path vector-effect="non-scaling-stroke" transform="translate(644.07,1188.70) scale(0.3363,0.3460)" d="M5,0 L5,100 M0,0 L10,0 M0,100 L10,100"/><path vector-effect="non-scaling-stroke" transform="translate(656.57,1188.70) scale(0.3363,0.3460)" d="M0,100 L14,24 C17,7 20,0 24,0 C28,0 31,7 34,24 L48,100 M8,63 L40,63"/><path vector-effect="non-scaling-stroke" transform="translate(681.85,1188.70) scale(0.3363,0.3460)" d="M0,100 L0,0 L40,100 L40,0"/></g>
<g fill="none" stroke="#62301a" stroke-width="5.4" stroke-linecap="round" stroke-linejoin="round"><path vector-effect="non-scaling-stroke" transform="translate(583.70,1188.70) scale(0.3363,0.3460)" d="M0,0 L20,96 Q22,104 24,96 L44,0"/><path vector-effect="non-scaling-stroke" transform="translate(607.63,1188.70) scale(0.3363,0.3460)" d="M5,0 L5,100 M0,0 L10,0 M0,100 L10,100"/><path vector-effect="non-scaling-stroke" transform="translate(620.13,1188.70) scale(0.3363,0.3460)" d="M0,0 L20,96 Q22,104 24,96 L44,0"/><path vector-effect="non-scaling-stroke" transform="translate(644.07,1188.70) scale(0.3363,0.3460)" d="M5,0 L5,100 M0,0 L10,0 M0,100 L10,100"/><path vector-effect="non-scaling-stroke" transform="translate(656.57,1188.70) scale(0.3363,0.3460)" d="M0,100 L14,24 C17,7 20,0 24,0 C28,0 31,7 34,24 L48,100 M8,63 L40,63"/><path vector-effect="non-scaling-stroke" transform="translate(681.85,1188.70) scale(0.3363,0.3460)" d="M0,100 L0,0 L40,100 L40,0"/></g>
<g fill="#eef79a" opacity="0.55">
<ellipse cx="557.2" cy="646.8" rx="6.0" ry="7.8"/>
<ellipse cx="704.3" cy="665" rx="8.4" ry="10.8"/>
<ellipse cx="731.9" cy="689.6" rx="6.6" ry="8.5"/>
<ellipse cx="534.8" cy="732.3" rx="6.0" ry="7.8"/>
<ellipse cx="550.7" cy="763.5" rx="8.4" ry="10.8"/>
<ellipse cx="721" cy="735.2" rx="8.4" ry="10.8"/>
<ellipse cx="750" cy="765" rx="8.4" ry="10.8"/>
<ellipse cx="517.8" cy="832" rx="7.8" ry="10.1"/>
<ellipse cx="771.2" cy="835.6" rx="6.6" ry="8.5"/>
<ellipse cx="509.4" cy="916.7" rx="8.4" ry="10.8"/>
<ellipse cx="780.5" cy="909.2" rx="8.4" ry="10.8"/>
<ellipse cx="489.4" cy="984.7" rx="8.4" ry="10.8"/>
<ellipse cx="784.2" cy="968.9" rx="7.2" ry="9.3"/>
<ellipse cx="802.8" cy="994" rx="8.4" ry="10.8"/>
<ellipse cx="482.5" cy="1060.2" rx="8.4" ry="10.8"/>
<ellipse cx="806.2" cy="1052.2" rx="8.4" ry="10.8"/>
<ellipse cx="464" cy="1129.3" rx="9.0" ry="11.6"/>
<ellipse cx="824.8" cy="1129.8" rx="9.0" ry="11.6"/>
<ellipse cx="446.5" cy="1202.5" rx="9.0" ry="11.6"/>
<ellipse cx="825.3" cy="1191.9" rx="7.2" ry="9.3"/>
<ellipse cx="848.4" cy="1220.7" rx="10.2" ry="13.2"/>
</g>
<g fill="#3a200c">
<use href="#flk" transform="translate(557.2,646.8) scale(5.60,7.10)"/>
<use href="#flk" transform="translate(704.3,665) scale(7.84,9.94)"/>
<use href="#flk" transform="translate(731.9,689.6) scale(6.16,7.81)"/>
<use href="#flk" transform="translate(534.8,732.3) scale(5.60,7.10)"/>
<use href="#flk" transform="translate(550.7,763.5) scale(7.84,9.94)"/>
<use href="#flk" transform="translate(721,735.2) scale(7.84,9.94)"/>
<use href="#flk" transform="translate(750,765) scale(7.84,9.94)"/>
<use href="#flk" transform="translate(517.8,832) scale(7.28,9.23)"/>
<use href="#flk" transform="translate(771.2,835.6) scale(6.16,7.81)"/>
<use href="#flk" transform="translate(509.4,916.7) scale(7.84,9.94)"/>
<use href="#flk" transform="translate(780.5,909.2) scale(7.84,9.94)"/>
<use href="#flk" transform="translate(489.4,984.7) scale(7.84,9.94)"/>
<use href="#flk" transform="translate(784.2,968.9) scale(6.72,8.52)"/>
<use href="#flk" transform="translate(802.8,994) scale(7.84,9.94)"/>
<use href="#flk" transform="translate(482.5,1060.2) scale(7.84,9.94)"/>
<use href="#flk" transform="translate(806.2,1052.2) scale(7.84,9.94)"/>
<use href="#flk" transform="translate(464,1129.3) scale(8.40,10.65)"/>
<use href="#flk" transform="translate(824.8,1129.8) scale(8.40,10.65)"/>
<use href="#flk" transform="translate(446.5,1202.5) scale(8.40,10.65)"/>
<use href="#flk" transform="translate(825.3,1191.9) scale(6.72,8.52)"/>
<use href="#flk" transform="translate(848.4,1220.7) scale(9.52,12.07)"/>
</g><g fill="#eef79a" opacity="0.7">
<circle cx="558.7" cy="671.4" r="3"/>
<circle cx="589" cy="647.5" r="3"/>
<circle cx="717.4" cy="645.4" r="3"/>
<circle cx="731" cy="665" r="3"/>
<circle cx="709.4" cy="685.2" r="3"/>
<circle cx="563" cy="726.5" r="3"/>
<circle cx="739.9" cy="726.5" r="3"/>
<circle cx="759.4" cy="750.4" r="3"/>
<circle cx="713.8" cy="765" r="3"/>
<circle cx="551.9" cy="817" r="3"/>
<circle cx="536.4" cy="852.4" r="3"/>
<circle cx="730.5" cy="821.7" r="3"/>
<circle cx="764.6" cy="816" r="3"/>
<circle cx="501" cy="889.7" r="3"/>
<circle cx="537.3" cy="905.5" r="3"/>
<circle cx="501.9" cy="931.6" r="3"/>
<circle cx="766.5" cy="896.2" r="3"/>
<circle cx="755.3" cy="928.8" r="3"/>
<circle cx="789.4" cy="934.4" r="3"/>
<circle cx="521.1" cy="969.8" r="3"/>
<circle cx="514.6" cy="998.7" r="3"/>
<circle cx="489.8" cy="1007.6" r="3"/>
<circle cx="750.7" cy="968.9" r="3"/>
<circle cx="807" cy="956.8" r="3"/>
<circle cx="781.4" cy="993" r="3"/>
<circle cx="472" cy="1034.8" r="3"/>
<circle cx="516.3" cy="1049.8" r="3"/>
<circle cx="473.3" cy="1074" r="3"/>
<circle cx="789.6" cy="1040.3" r="3"/>
<circle cx="776.4" cy="1070.4" r="3"/>
<circle cx="817.4" cy="1075.8" r="3"/>
<circle cx="482" cy="1115.6" r="3"/>
<circle cx="497.4" cy="1148.6" r="3"/>
<circle cx="452.2" cy="1155.3" r="3"/>
<circle cx="836" cy="1101.4" r="3"/>
<circle cx="787" cy="1118.8" r="3"/>
<circle cx="835.3" cy="1144.7" r="3"/>
<circle cx="487.5" cy="1186.9" r="3"/>
<circle cx="479" cy="1218.2" r="3"/>
<circle cx="446.7" cy="1227.6" r="3"/>
<circle cx="854.7" cy="1179" r="3"/>
<circle cx="782.1" cy="1191.4" r="3"/>
<circle cx="821.1" cy="1218.2" r="3"/>
</g><g fill="#140a04">
<circle cx="558.7" cy="671.4" r="1.7"/>
<circle cx="589" cy="647.5" r="1.7"/>
<circle cx="717.4" cy="645.4" r="1.7"/>
<circle cx="731" cy="665" r="1.7"/>
<circle cx="709.4" cy="685.2" r="1.7"/>
<circle cx="563" cy="726.5" r="1.7"/>
<circle cx="739.9" cy="726.5" r="1.7"/>
<circle cx="759.4" cy="750.4" r="1.7"/>
<circle cx="713.8" cy="765" r="1.7"/>
<circle cx="551.9" cy="817" r="1.7"/>
<circle cx="536.4" cy="852.4" r="1.7"/>
<circle cx="730.5" cy="821.7" r="1.7"/>
<circle cx="764.6" cy="816" r="1.7"/>
<circle cx="501" cy="889.7" r="1.7"/>
<circle cx="537.3" cy="905.5" r="1.7"/>
<circle cx="501.9" cy="931.6" r="1.7"/>
<circle cx="766.5" cy="896.2" r="1.7"/>
<circle cx="755.3" cy="928.8" r="1.7"/>
<circle cx="789.4" cy="934.4" r="1.7"/>
<circle cx="521.1" cy="969.8" r="1.7"/>
<circle cx="514.6" cy="998.7" r="1.7"/>
<circle cx="489.8" cy="1007.6" r="1.7"/>
<circle cx="750.7" cy="968.9" r="1.7"/>
<circle cx="807" cy="956.8" r="1.7"/>
<circle cx="781.4" cy="993" r="1.7"/>
<circle cx="472" cy="1034.8" r="1.7"/>
<circle cx="516.3" cy="1049.8" r="1.7"/>
<circle cx="473.3" cy="1074" r="1.7"/>
<circle cx="789.6" cy="1040.3" r="1.7"/>
<circle cx="776.4" cy="1070.4" r="1.7"/>
<circle cx="817.4" cy="1075.8" r="1.7"/>
<circle cx="482" cy="1115.6" r="1.7"/>
<circle cx="497.4" cy="1148.6" r="1.7"/>
<circle cx="452.2" cy="1155.3" r="1.7"/>
<circle cx="836" cy="1101.4" r="1.7"/>
<circle cx="787" cy="1118.8" r="1.7"/>
<circle cx="835.3" cy="1144.7" r="1.7"/>
<circle cx="487.5" cy="1186.9" r="1.7"/>
<circle cx="479" cy="1218.2" r="1.7"/>
<circle cx="446.7" cy="1227.6" r="1.7"/>
<circle cx="854.7" cy="1179" r="1.7"/>
<circle cx="782.1" cy="1191.4" r="1.7"/>
<circle cx="821.1" cy="1218.2" r="1.7"/>
</g>
<polygon points="475.7,1244.0 486.0,1282.0 483.0,1285.0 483.5,1298.0 488.5,1303.0 513.0,1382.0 530.0,1382.0 505.5,1303.0 500.5,1298.0 500.0,1285.0 503.0,1282.0 492.7,1244.0" fill="url(#potside)"/>
<polygon points="491.2,1244.0 501.5,1282.0 498.5,1285.0 499.0,1298.0 504.0,1303.0 528.5,1382.0 538.0,1382.0 513.5,1303.0 508.5,1298.0 508.0,1285.0 511.0,1282.0 500.7,1244.0" fill="#d9b58b"/>
<polygon points="499.7,1244.0 510.0,1282.0 507.0,1285.0 507.5,1298.0 512.5,1303.0 537.0,1382.0 747.0,1382.0 784.0,1258.0 790.0,1243.0" fill="#f9c07a" filter="url(#grain)"/>
<path d="M508,1292 C520,1298 535,1306 553,1305 C568,1304 580,1293 595,1293 C610,1293 625,1289 649,1285 C665,1283 690,1295 705,1296 C718,1296 728,1288 742,1273 C758,1262 772,1254 789,1246" fill="none" stroke="#c8c4bc" stroke-width="13" transform="translate(1,-3)"/>
<path d="M508,1292 C520,1298 535,1306 553,1305 C568,1304 580,1293 595,1293 C610,1293 625,1289 649,1285 C665,1283 690,1295 705,1296 C718,1296 728,1288 742,1273 C758,1262 772,1254 789,1246" fill="none" stroke="#141414" stroke-width="12"/>
<g transform="rotate(9.5,551,1320.7)">
<path d="M542,1320.7 C538.5,1330.7 539,1344.7 543.5,1354.7 C546.5,1361.7 549,1367.7 551,1367.7 C553,1367.7 556,1361.7 559,1354.7 C563.5,1344.7 563.5,1330.7 560,1320.7 Z" fill="#efe6d2" transform="translate(1.5,1)"/>
<path d="M542,1320.7 C538.5,1330.7 539,1344.7 543.5,1354.7 C546.5,1361.7 549,1367.7 551,1367.7 C553,1367.7 556,1361.7 559,1354.7 C563.5,1344.7 563.5,1330.7 560,1320.7 Z" fill="#5fc644"/>
</g>
<g transform="rotate(9.5,553.6,1309.9)"><rect x="545.6" y="1296.9" width="16" height="25" rx="6" fill="#bdb8b0" transform="translate(1,-2)"/><rect x="546.1" y="1297.9" width="15" height="24" rx="6" fill="#141414"/></g>
<g transform="rotate(-8,598,1308.3)">
<path d="M589,1308.3 C585.5,1318.3 586,1332.3 590.5,1342.3 C593.5,1349.3 596,1355.3 598,1355.3 C600,1355.3 603,1349.3 606,1342.3 C610.5,1332.3 610.5,1318.3 607,1308.3 Z" fill="#efe6d2" transform="translate(1.5,1)"/>
<path d="M589,1308.3 C585.5,1318.3 586,1332.3 590.5,1342.3 C593.5,1349.3 596,1355.3 598,1355.3 C600,1355.3 603,1349.3 606,1342.3 C610.5,1332.3 610.5,1318.3 607,1308.3 Z" fill="#5289c9"/>
</g>
<g transform="rotate(-8,594.7,1297.5)"><rect x="586.7" y="1284.5" width="16" height="25" rx="6" fill="#bdb8b0" transform="translate(1,-2)"/><rect x="587.2" y="1285.5" width="15" height="24" rx="6" fill="#141414"/></g>
<g transform="rotate(0,650.6,1302.9)">
<path d="M641.6,1302.9 C638.1,1312.9 638.6,1326.9 643.1,1336.9 C646.1,1343.9 648.6,1349.9 650.6,1349.9 C652.6,1349.9 655.6,1343.9 658.6,1336.9 C663.1,1326.9 663.1,1312.9 659.6,1302.9 Z" fill="#efe6d2" transform="translate(1.5,1)"/>
<path d="M641.6,1302.9 C638.1,1312.9 638.6,1326.9 643.1,1336.9 C646.1,1343.9 648.6,1349.9 650.6,1349.9 C652.6,1349.9 655.6,1343.9 658.6,1336.9 C663.1,1326.9 663.1,1312.9 659.6,1302.9 Z" fill="#f8e21c"/>
</g>
<g transform="rotate(0,649,1291.2)"><rect x="641" y="1278.2" width="16" height="25" rx="6" fill="#bdb8b0" transform="translate(1,-2)"/><rect x="641.5" y="1279.2" width="15" height="24" rx="6" fill="#141414"/></g>
<g transform="rotate(9,702,1312)">
<path d="M693,1312 C689.5,1322 690,1336 694.5,1346 C697.5,1353 700,1359 702,1359 C704,1359 707,1353 710,1346 C714.5,1336 714.5,1322 711,1312 Z" fill="#efe6d2" transform="translate(1.5,1)"/>
<path d="M693,1312 C689.5,1322 690,1336 694.5,1346 C697.5,1353 700,1359 702,1359 C704,1359 707,1353 710,1346 C714.5,1336 714.5,1322 711,1312 Z" fill="#f7872c"/>
</g>
<g transform="rotate(9,706.5,1300.6)"><rect x="698.5" y="1287.6" width="16" height="25" rx="6" fill="#bdb8b0" transform="translate(1,-2)"/><rect x="699.0" y="1288.6" width="15" height="24" rx="6" fill="#141414"/></g>
<g transform="rotate(-10,747,1286.6)">
<path d="M738,1286.6 C734.5,1296.6 735,1310.6 739.5,1320.6 C742.5,1327.6 745,1333.6 747,1333.6 C749,1333.6 752,1327.6 755,1320.6 C759.5,1310.6 759.5,1296.6 756,1286.6 Z" fill="#efe6d2" transform="translate(1.5,1)"/>
<path d="M738,1286.6 C734.5,1296.6 735,1310.6 739.5,1320.6 C742.5,1327.6 745,1333.6 747,1333.6 C749,1333.6 752,1327.6 755,1320.6 C759.5,1310.6 759.5,1296.6 756,1286.6 Z" fill="#f27ba8"/>
</g>
<g transform="rotate(-10,742.2,1275.7)"><rect x="734.2" y="1262.7" width="16" height="25" rx="6" fill="#bdb8b0" transform="translate(1,-2)"/><rect x="734.7" y="1263.7" width="15" height="24" rx="6" fill="#141414"/></g>
<polygon points="1494.0,455.3 1517.8,506.2 1563.0,519.6 1532.6,564.4 1536.6,623.5 1494.0,600.3 1451.4,623.5 1455.4,564.4 1425.0,519.6 1470.2,506.2" fill="#5a4a3a" stroke="#5a4a3a" stroke-width="8" stroke-linejoin="round"/>
<polygon points="1499.0,455.3 1522.8,506.2 1568.0,519.6 1537.6,564.4 1541.6,623.5 1499.0,600.3 1456.4,623.5 1460.4,564.4 1430.0,519.6 1475.2,506.2" fill="#e6c7a2" stroke="#e6c7a2" stroke-width="8" stroke-linejoin="round"/>
<polygon points="1508.0,455.3 1531.8,506.2 1577.0,519.6 1546.6,564.4 1550.6,623.5 1508.0,600.3 1465.4,623.5 1469.4,564.4 1439.0,519.6 1484.2,506.2" fill="#6e5a44" stroke="#6e5a44" stroke-width="8" stroke-linejoin="round"/>
<polygon points="1464,630 1478,630 1474,1232 1459,1232" fill="#67553f"/>
<polygon points="1469,630 1478,630 1474,1232 1463.5,1232" fill="#e6c7a2"/>
<polygon points="1478,630 1492,630 1487,1232 1474,1232" fill="#6e5d48"/>
<polygon points="1490,630 1497,630 1492,1232 1486,1232" fill="#e9caa4"/>
<polygon points="1345.0,1232.0 1639.0,1233.0 1642.0,1237.0 1642.0,1248.0 1636.0,1252.0 1600.0,1383.0 1385.0,1383.0 1358.5,1302.0 1355.0,1298.0 1353.5,1284.0 1354.8,1280.6" fill="#5a4a3a"/>
<polygon points="1350.0,1232.0 1644.0,1233.0 1647.0,1237.0 1647.0,1248.0 1641.0,1252.0 1605.0,1383.0 1390.0,1383.0 1363.5,1302.0 1360.0,1298.0 1358.5,1284.0 1359.8,1280.6" fill="#e6c7a2"/>
<polygon points="1359.0,1232.0 1653.0,1233.0 1656.0,1237.0 1656.0,1248.0 1650.0,1252.0 1614.0,1383.0 1399.0,1383.0 1372.5,1302.0 1369.0,1298.0 1367.5,1284.0 1368.8,1280.6" fill="#6e5a44"/>
<g filter="url(#grain)"><g fill="#efd0ae"><polygon points="1521.0,456.3 1544.8,507.2 1590.0,520.6 1559.6,565.4 1563.6,624.5 1521.0,601.3 1478.4,624.5 1482.4,565.4 1452.0,520.6 1497.2,507.2" stroke="#efd0ae" stroke-width="8" stroke-linejoin="round"/>
<polygon points="1492,600 1547,600 1555,1232 1491,1232"/>
<polygon points="1372,1232 1666,1233 1669,1237 1669,1248 1663,1252 1627,1383 1412,1383 1385.5,1302 1382,1298 1380.5,1284 1381.8,1280.6"/><rect x="1491" y="1220" width="64" height="20"/></g></g>
<defs><clipPath id="bhole"><ellipse cx="1521" cy="514.3" rx="9" ry="14.6"/></clipPath></defs>
<ellipse cx="1521" cy="514.3" rx="9" ry="14.6" fill="#554637"/>
<ellipse cx="1510.5" cy="514.3" rx="6.8" ry="13" fill="#f3dcc0" clip-path="url(#bhole)"/>
<g fill="none" stroke="#e42229" stroke-linejoin="round">
<path d="M24,752 L301,752 L360,678 M301,752 L380,803" stroke-width="6.5"/>
<path d="M181,1353 L416,1353 L477,1279" stroke-width="4"/>
</g>
<g fill="#e42229"><circle cx="360" cy="678" r="13"/><circle cx="380" cy="803" r="13"/><circle cx="477" cy="1279" r="13"/></g>
<g font-family="Liberation Sans, sans-serif" font-weight="bold" fill="#000" text-anchor="middle">
<text x="179.5" y="690" font-size="33" textLength="260" lengthAdjust="spacingAndGlyphs">Layer 1 + Layer 2</text>
<text x="180" y="723" font-size="33" textLength="146" lengthAdjust="spacingAndGlyphs">Thickness</text>
<text x="180" y="795" font-size="33" textLength="76" lengthAdjust="spacingAndGlyphs">6mm</text>
<text x="304" y="1307" font-size="33" textLength="110" lengthAdjust="spacingAndGlyphs">Layer 2</text>
<text x="304" y="1341" font-size="33" textLength="144" lengthAdjust="spacingAndGlyphs">Thickness</text>
<text x="303" y="1391" font-size="33" textLength="76" lengthAdjust="spacingAndGlyphs">3mm</text>
</g>
<g font-family="Liberation Sans, sans-serif" font-weight="bold" fill="#000" stroke="#000" stroke-width="2.8" stroke-linejoin="round" text-anchor="middle">
<text x="636.8" y="1548" font-size="78" textLength="178" lengthAdjust="spacingAndGlyphs">Front</text>
<text x="1517.6" y="1548" font-size="78" textLength="178.5" lengthAdjust="spacingAndGlyphs">Back</text>
</g>
</svg></body></html>
